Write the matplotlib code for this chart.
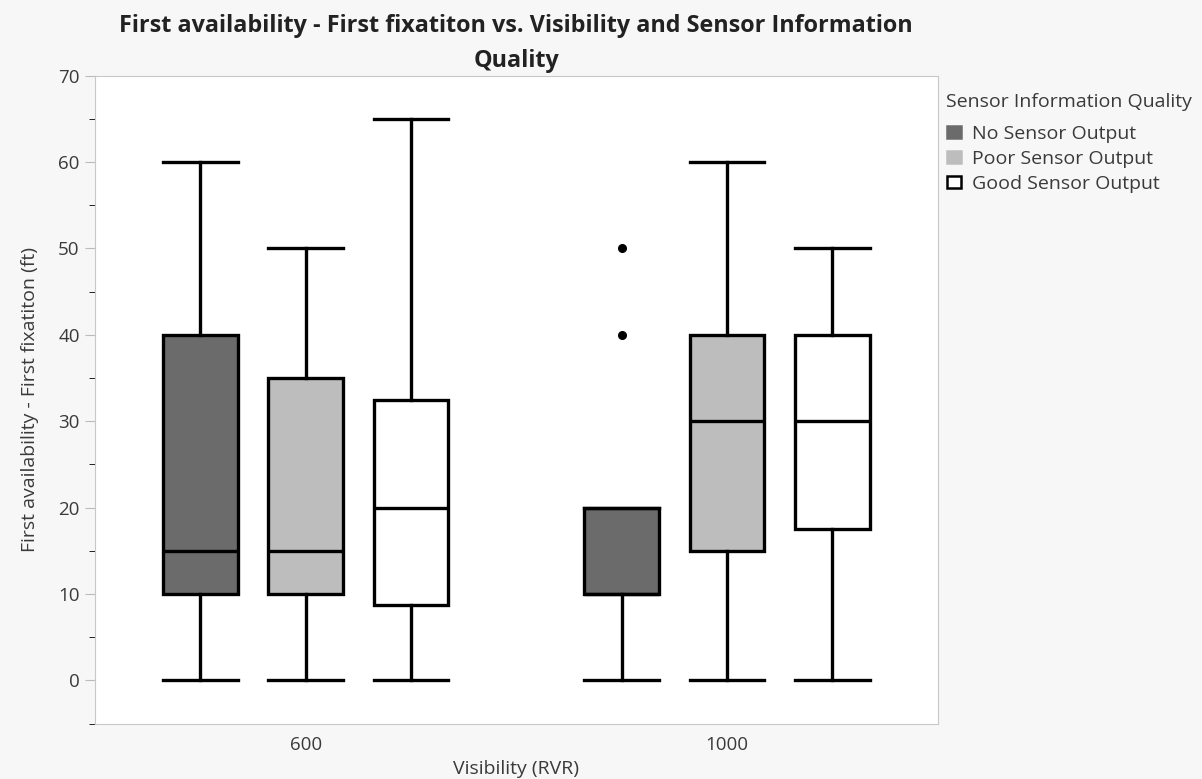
import numpy as np
import matplotlib.pyplot as plt
from matplotlib.patches import Patch
from matplotlib.ticker import MultipleLocator

# Data
visibility = ["600", "1000"]
quality = ["No Sensor Output", "Poor Sensor Output", "Good Sensor Output"]
colors = ["#6b6b6b", "#bdbdbd", "#ffffff"]

# per visibility, per quality: (whislo, q1, med, q3, whishi)
lows = [[0, 0, 0], [0, 0, 0]]
q1s = [[10, 10, 8.75], [10, 15, 17.5]]
meds = [[15, 15, 20], [10, 30, 30]]
q3s = [[40, 35, 32.5], [20, 40, 40]]
highs = [[60, 50, 65], [20, 60, 50]]
fliers = [[[], [], []], [[40, 50], [], []]]

plt.rcParams['font.family'] = ['Open Sans', 'DejaVu Sans']

fig = plt.figure(figsize=(12.02, 7.79), dpi=100, facecolor="#f7f7f7")
ax = fig.add_axes([0.079, 0.071, 0.701, 0.832])
ax.set_facecolor("white")

offsets = [-0.25, 0.0, 0.25]
width = 0.177
for gi in range(len(visibility)):
    for qi in range(len(quality)):
        st = dict(whislo=lows[gi][qi], q1=q1s[gi][qi], med=meds[gi][qi],
                  q3=q3s[gi][qi], whishi=highs[gi][qi], fliers=fliers[gi][qi])
        ax.bxp([st], positions=[gi + offsets[qi]], widths=width,
               patch_artist=True, showfliers=True,
               boxprops=dict(facecolor=colors[qi], edgecolor="black", linewidth=2.4),
               medianprops=dict(color="black", linewidth=2.4),
               whiskerprops=dict(color="black", linewidth=2.4),
               capprops=dict(color="black", linewidth=2.4),
               capwidths=width,
               flierprops=dict(marker="o", markersize=5.5, markerfacecolor="black",
                               markeredgecolor="black"))

ax.set_xlim(-0.5, 1.5)
ax.set_ylim(-5, 70)
ax.set_xticks([0, 1])
ax.set_xticklabels(visibility)
ax.yaxis.set_major_locator(MultipleLocator(10))
ax.yaxis.set_minor_locator(MultipleLocator(5))
for s in ax.spines.values():
    s.set_color("#c8c8c8")
ax.tick_params(axis="both", colors="#bbbbbb", labelcolor="#3a3a3a", labelsize=13.5)
ax.tick_params(axis="x", length=0, pad=9)
ax.tick_params(axis="y", which="major", length=7, pad=4)
ax.tick_params(axis="y", which="minor", length=4)

ax.set_xlabel("Visibility (RVR)", fontsize=14, color="#3a3a3a", labelpad=4)
ax.set_ylabel("First availability - First fixatiton (ft)", fontsize=14, color="#3a3a3a",
              labelpad=14)
ax.set_title("First availability - First fixatiton vs. Visibility and Sensor Information\nQuality",
             fontsize=16.8, fontweight="bold", color="#222222", pad=6, linespacing=1.6)

fig.text(946 / 1202, 1 - 102 / 779, "Sensor Information Quality", fontsize=14,
         color="#3a3a3a", ha="left", va="center")
handles = [Patch(facecolor=c, edgecolor=("black" if c == "#ffffff" else c), linewidth=1.8)
           for c in colors]
leg = fig.legend(handles, quality, loc="upper left",
                 bbox_to_anchor=(947 / 1202, 1 - 125 / 779), frameon=False,
                 fontsize=14, handlelength=0.7, handleheight=0.55,
                 handletextpad=0.6, labelspacing=0.36, borderpad=0.0,
                 borderaxespad=0.0)
for t in leg.get_texts():
    t.set_color("#3a3a3a")

fig.savefig("out.png", dpi=100, facecolor=fig.get_facecolor())
